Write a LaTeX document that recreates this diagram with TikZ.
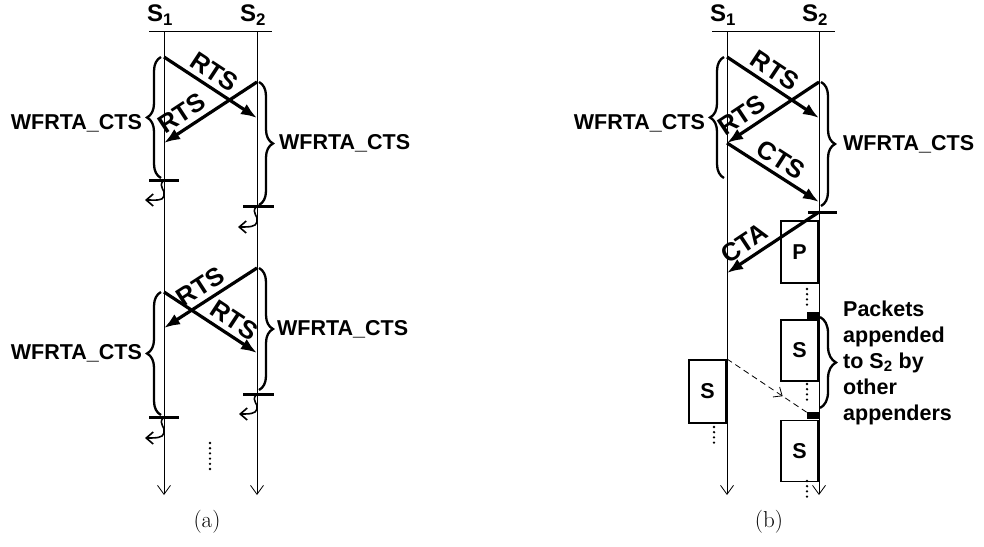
\documentclass[tikz,border=0pt]{standalone}
\usepackage{fontspec}
\newfontfamily\arialsans{Liberation Sans}
\usepackage{tikz}
\usetikzlibrary{arrows.meta,positioning,calc,decorations.pathreplacing,decorations.markings}

\begin{document}
\begin{tikzpicture}[
  x=1pt, y=-1pt,
  lifehead/.style={font=\arialsans\bfseries\fontsize{24}{28}\selectfont, inner sep=0pt},
  lbl/.style={font=\arialsans\bfseries\fontsize{21.5}{26}\selectfont, inner sep=1pt},
  life/.style={line width=0.8pt, -{Straight Barb[length=9pt,width=13pt]}},
  msg/.style={line width=3.2pt, -{Latex[length=16pt,width=12pt]}},
  mlbl/.style={font=\arialsans\bfseries\fontsize{25.5}{30}\selectfont, sloped, above, inner sep=4.5pt},
  brc/.style={decorate, decoration={brace, amplitude=14pt}, line width=2.3pt},
  endbar/.style={line width=3pt},
  retarrow/.style={line width=1.6pt, -{Straight Barb[length=7pt,width=12pt]}},
  dotline/.style={line width=2.6pt, line cap=round, dash pattern=on 0pt off 5.2pt},
  pkt/.style={rectangle, draw, line width=1.8pt, minimum width=37pt, minimum height=61pt, inner sep=0pt, font=\arialsans\bfseries\fontsize{21.5}{26}\selectfont},
  blk/.style={rectangle, fill, minimum width=12pt, minimum height=7pt, inner sep=0pt},
  dsh/.style={line width=0.8pt, dash pattern=on 6pt off 4pt, postaction={decorate},
    decoration={markings, mark=at position 0.7 with {\arrow{Straight Barb[length=7pt,width=12pt]}}}},
  subcap/.style={font=\fontsize{23}{27}\selectfont, inner sep=0pt}
]
\useasboundingbox (0,0) rectangle (984,546);

% (a) two stations
\node[lifehead] (s1_a) at (160,15) {S\textsubscript{1}};
\node[lifehead] (s2_a) at (253,15) {S\textsubscript{2}};
\coordinate (hl_a) at (149,31);
\coordinate (hr_a) at (272,31);
\draw[line width=0.8pt] (hl_a) -- (hr_a);
\coordinate (t1_a) at (164,31);
\coordinate (e1_a) at (164,495);
\coordinate (t2_a) at (257,31);
\coordinate (e2_a) at (257,495);
\draw[life] (t1_a) -- (e1_a);
\draw[life] (t2_a) -- (e2_a);

% first try
\coordinate (r1s_a) at (164,57);
\coordinate (r1e_a) at (257,118);
\coordinate (r2s_a) at (257,82);
\coordinate (r2e_a) at (164,143);
\draw[msg] (r1s_a) -- node[mlbl, pos=.45] (rts1_a) {RTS} (r1e_a);
\draw[msg] (r2s_a) -- node[mlbl, pos=.72] (rts2_a) {RTS} (r2e_a);

\draw[brc] (161,178) -- node[lbl, left=17pt, yshift=-6pt] (wf1_a) {WFRTA\_CTS} (161,57);
\draw[brc] (259,82) -- node[lbl, right=18pt] (wf2_a) {WFRTA\_CTS} (259,205);
\draw[endbar] (149,180) -- (179,180);
\draw[endbar] (243,206) -- (274,206);
\draw[retarrow] (163,181) .. controls (158,187) and (166,190) .. (164,196) .. controls (163,201) and (156,200) .. (145,200);
\draw[retarrow] (256,207) .. controls (251,213) and (259,216) .. (257,222) .. controls (256,227) and (249,227) .. (238,227);

% second try
\coordinate (r3s_a) at (257,268);
\coordinate (r3e_a) at (164,328);
\coordinate (r4s_a) at (164,292);
\coordinate (r4e_a) at (257,353);
\draw[msg] (r3s_a) -- node[mlbl, pos=.52] (rts3_a) {RTS} (r3e_a);
\draw[msg] (r4s_a) -- node[mlbl, pos=.67] (rts4_a) {RTS} (r4e_a);

\draw[brc] (161,415) -- node[lbl, left=17pt] (wf3_a) {WFRTA\_CTS} (161,292);
\draw[brc] (259,268) -- node[lbl, right=16pt] (wf4_a) {WFRTA\_CTS} (259,390);
\draw[endbar] (149,417) -- (179,417);
\draw[endbar] (243,394) -- (274,394);
\draw[retarrow] (163,418) .. controls (158,424) and (166,427) .. (164,433) .. controls (163,438) and (156,438) .. (145,438);
\draw[retarrow] (256,395) .. controls (251,401) and (259,404) .. (257,409) .. controls (256,414) and (249,414) .. (239,414);
\draw[dotline] (210,443) -- (210,471);

\node[subcap] (cap_a) at (207,522) {(a)};

% (b) with CTS / CTA
\begin{scope}[xshift=563pt]
\node[lifehead] (s1_b) at (160,15) {S\textsubscript{1}};
\node[lifehead] (s2_b) at (252,15) {S\textsubscript{2}};
\coordinate (hl_b) at (149,31);
\coordinate (hr_b) at (272,31);
\draw[line width=0.8pt] (hl_b) -- (hr_b);
\coordinate (t1_b) at (164,31);
\coordinate (e1_b) at (164,495);
\coordinate (t2_b) at (256,31);
\coordinate (e2_b) at (256,495);
\draw[life] (t1_b) -- (e1_b);
\draw[life] (t2_b) -- (e2_b);

\coordinate (r1s_b) at (164,57);
\coordinate (r1e_b) at (256,118);
\coordinate (r2s_b) at (256,82);
\coordinate (r2e_b) at (164,143);
\coordinate (c1e_b) at (256,202);
\draw[msg] (r1s_b) -- node[mlbl, pos=.43] (rts1_b) {RTS} (r1e_b);
\draw[msg] (r2s_b) -- node[mlbl, pos=.75] (rts2_b) {RTS} (r2e_b);
\draw[msg] (r2e_b) -- node[mlbl, pos=.5] (cts_b) {CTS} (c1e_b);

\draw[brc] (161,178) -- node[lbl, left=17pt, yshift=-6pt] (wf1_b) {WFRTA\_CTS} (161,57);
\draw[brc] (258,82) -- node[lbl, right=20pt] (wf2_b) {WFRTA\_CTS} (258,206);
\draw[endbar] (245,212) -- (274,212);

% packets on S2
\node[pkt, anchor=north east, minimum height=62pt] (p_b) at (256,220) {P};
\node[pkt] (sa_b) [below=35pt of p_b] {S};
\node[pkt] (sb_b) [below=38pt of sa_b] {S};
\node[blk, anchor=south east] (tag1_b) at (sa_b.north east) {};
\node[blk, anchor=south east] (tag2_b) at (sb_b.north east) {};
\draw[dotline] (244,289) -- (244,305);
\draw[dotline] (244,384) -- (244,400);
\draw[dotline] (244,481) -- (244,497);

\coordinate (ctas_b) at (256,212);
\coordinate (ctae_b) at (164,273);
\draw[msg] (ctas_b) -- node[mlbl, pos=.72] (cta_b) {CTA} (ctae_b);

\draw[brc, decoration={brace, amplitude=16pt}] (257,317) -- node[lbl, right=22pt, align=left, inner sep=0pt] (pk_b) {Packets\\appended\\to S\textsubscript{2} by\\other\\appenders} (257,408);

% packet on S1
\node[pkt, anchor=north east, minimum height=63pt] (sl_b) at (164,359) {S};
\draw[dotline] (151,427) -- (151,444);
\draw[dsh] (sl_b.north east) -- (tag2_b.north west);

\node[subcap] (cap_b) at (206,522) {(b)};
\end{scope}

\end{tikzpicture}
\end{document}
